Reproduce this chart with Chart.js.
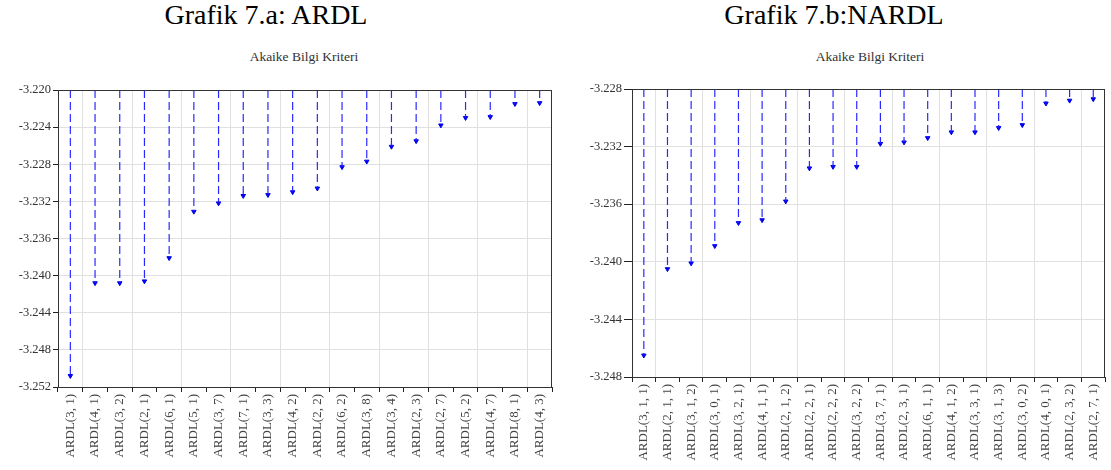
<!DOCTYPE html>
<html>
<head>
<meta charset="utf-8">
<script src="https://cdn.jsdelivr.net/npm/chart.js@4/dist/chart.umd.min.js"></script>
<style>
  html, body { margin: 0; padding: 0; background: #fff; }
  body { width: 1111px; height: 470px; position: relative; overflow: hidden;
         font-family: "Liberation Serif", "Times New Roman", serif; }
  .head { position: absolute; top: -1px; font-size: 28px; color: #000; white-space: nowrap;
          transform: translateX(-50%); }
  .sub { position: absolute; top: 49px; font-size: 13.5px; color: #333; white-space: nowrap;
         transform: translateX(-50%); }
  canvas { position: absolute; top: 0; }
</style>
</head>
<body>
<div class="head" style="left:266px">Grafik 7.a: ARDL</div>
<div class="head" style="left:834px">Grafik 7.b:NARDL</div>
<div class="sub" style="left:304px">Akaike Bilgi Kriteri</div>
<div class="sub" style="left:870px">Akaike Bilgi Kriteri</div>
<canvas id="ardl" style="left:0px" width="560" height="470"></canvas>
<canvas id="nardl" style="left:560px" width="551" height="470"></canvas>
<script>
// ARDL model selection: Akaike criterion for the top 20 lag orders
const ardlLabels = ["ARDL(3, 1)", "ARDL(4, 1)", "ARDL(3, 2)", "ARDL(2, 1)", "ARDL(6, 1)",
  "ARDL(5, 1)", "ARDL(3, 7)", "ARDL(7, 1)", "ARDL(3, 3)", "ARDL(4, 2)", "ARDL(2, 2)",
  "ARDL(6, 2)", "ARDL(3, 8)", "ARDL(3, 4)", "ARDL(2, 3)", "ARDL(2, 7)", "ARDL(5, 2)",
  "ARDL(4, 7)", "ARDL(8, 1)", "ARDL(4, 3)"];
const ardlAic = [-3.2508, -3.2408, -3.2408, -3.2406, -3.2381, -3.2331, -3.2322, -3.2314,
  -3.2313, -3.2310, -3.2306, -3.2283, -3.2277, -3.2261, -3.2255, -3.2238, -3.2230,
  -3.2229, -3.2215, -3.2214];
const ardlTicks = { min: -3.252, max: -3.220, step: 0.004 };

// NARDL model selection
const nardlLabels = ["ARDL(3, 1, 1)", "ARDL(2, 1, 1)", "ARDL(3, 1, 2)", "ARDL(3, 0, 1)",
  "ARDL(3, 2, 1)", "ARDL(4, 1, 1)", "ARDL(2, 1, 2)", "ARDL(2, 2, 1)", "ARDL(2, 2, 2)",
  "ARDL(3, 2, 2)", "ARDL(3, 7, 1)", "ARDL(2, 3, 1)", "ARDL(6, 1, 1)", "ARDL(4, 1, 2)",
  "ARDL(3, 3, 1)", "ARDL(3, 1, 3)", "ARDL(3, 0, 2)", "ARDL(4, 0, 1)", "ARDL(2, 3, 2)",
  "ARDL(2, 7, 1)"];
const nardlAic = [-3.2465, -3.2405, -3.2401, -3.2389, -3.2373, -3.2371, -3.2358, -3.2335,
  -3.2334, -3.2334, -3.2318, -3.2317, -3.2314, -3.2310, -3.2310, -3.2307, -3.2305,
  -3.2290, -3.2288, -3.2287];
const nardlTicks = { min: -3.248, max: -3.228, step: 0.004 };

const SERIF = 'Liberation Serif';
const X_FONT = { family: SERIF, size: 13 };
const Y_FONT = { family: SERIF, size: 12.5 };
const STEM_BLUE = 'rgba(30, 30, 255, 0.95)';

// frame the plot area on all four sides
const frame = {
  id: 'frame',
  afterDraw(chart) {
    const { ctx, chartArea: a } = chart;
    ctx.save();
    ctx.strokeStyle = '#333';
    ctx.lineWidth = 1;
    ctx.strokeRect(Math.round(a.left) + 0.5, Math.round(a.top) + 0.5,
                   Math.round(a.right - a.left) - 1, Math.round(a.bottom - a.top));
    ctx.restore();
  }
};

// each stem runs from the top of the axis down to the criterion value
function stemPoints(labels, values, base) {
  const pts = [];
  labels.forEach((l, i) => {
    pts.push({ x: l, y: base }, { x: l, y: values[i] }, { x: l, y: null });
  });
  return pts;
}

function build(id, labels, values, range, box) {
  return new Chart(document.getElementById(id), {
    type: 'line',
    data: {
      labels,
      datasets: [
        {
          data: stemPoints(labels, values, range.max),
          borderColor: STEM_BLUE,
          borderWidth: 1.2,
          borderDash: [8, 4],
          pointRadius: 0,
          spanGaps: false,
          tension: 0
        },
        {
          data: values,
          showLine: false,
          pointStyle: 'triangle',
          rotation: 180,
          radius: 2.6,
          pointBackgroundColor: '#0000ee',
          pointBorderColor: '#0000ee',
          pointBorderWidth: 1
        }
      ]
    },
    options: {
      responsive: false,
      animation: false,
      events: [],
      layout: { padding: { top: box.top, right: box.right, left: 0, bottom: 0 } },
      plugins: { legend: { display: false }, tooltip: { enabled: false }, title: { display: false } },
      scales: {
        x: {
          type: 'category',
          offset: true,
          grid: {
            offset: true,
            color: c => (c.index % 2 === 1 ? '#e0e0e0' : 'rgba(0,0,0,0)'),
            tickColor: '#222',
            tickLength: 5,
            lineWidth: 1
          },
          border: { color: '#333' },
          ticks: { autoSkip: false, minRotation: 90, maxRotation: 90, padding: 2,
                   color: '#444', font: X_FONT },
          afterFit: s => { s.height = box.xh; }
        },
        y: {
          min: range.min,
          max: range.max,
          grid: { color: '#e0e0e0', tickColor: '#222', tickLength: box.tl },
          border: { color: '#333' },
          ticks: { stepSize: range.step, padding: 2, color: '#333', font: Y_FONT,
                   callback: v => v.toFixed(3) },
          afterFit: s => { s.width = box.yw; }
        }
      }
    },
    plugins: [frame]
  });
}

build('ardl', ardlLabels, ardlAic, ardlTicks, { top: 90, right: 8, xh: 83, yw: 58, tl: 5 });
build('nardl', nardlLabels, nardlAic, nardlTicks, { top: 89, right: 2, xh: 93, yw: 72, tl: 8 });
</script>
</body>
</html>
